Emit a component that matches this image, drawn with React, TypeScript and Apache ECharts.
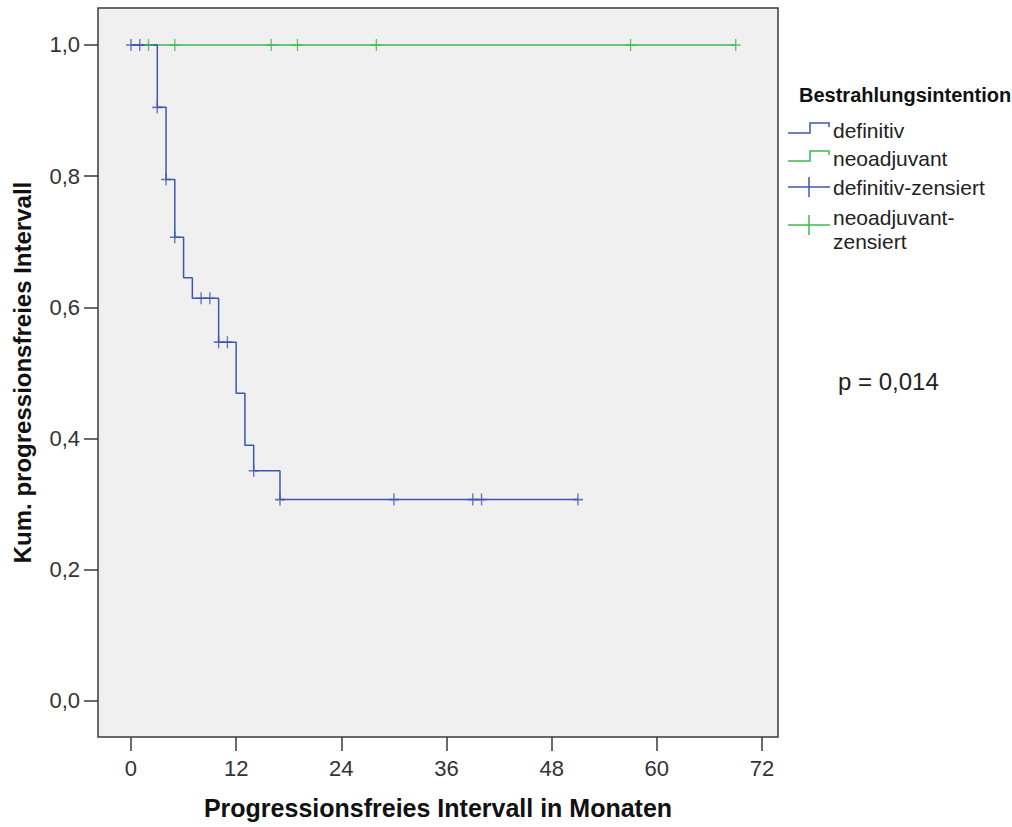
import React, { useEffect, useRef } from "react";
import * as echarts from "echarts";

// Kaplan-Meier: definitiv (event steps)
const defTimes = [0, 3, 4, 5, 6, 7, 10, 12, 13, 14, 17, 51];
const defSurv = [1.0, 0.905, 0.795, 0.707, 0.645, 0.614, 0.547, 0.469, 0.39, 0.351, 0.307, 0.307];
// definitiv censored
const defCensTimes = [0, 1, 3, 4, 5, 8, 9, 10, 11, 14, 17, 30, 39, 40, 51];
const defCensSurv = [1.0, 1.0, 0.905, 0.795, 0.707, 0.614, 0.614, 0.547, 0.547, 0.351, 0.307, 0.307, 0.307, 0.307, 0.307];

// neoadjuvant
const neoTimes = [0, 69];
const neoSurv = [1.0, 1.0];
const neoCensTimes = [2, 5, 16, 19, 28, 57, 69];
const neoCensSurv = [1.0, 1.0, 1.0, 1.0, 1.0, 1.0, 1.0];

const xTicks = [0, 12, 24, 36, 48, 60, 72];
const yTicks = [0, 0.2, 0.4, 0.6, 0.8, 1.0];

const legendTitle = "Bestrahlungsintention";
const legendLabels = ["definitiv", "neoadjuvant", "definitiv-zensiert", "neoadjuvant-\nzensiert"];
const pText = "p = 0,014";
const xTitle = "Progressionsfreies Intervall in Monaten";
const yTitle = "Kum. progressionsfreies Intervall";

const BLUE = "#3E58AC";
const GREEN = "#3DBA4F";
const FONT = "'Liberation Sans', Arial, sans-serif";
const CROSS = "path://M5,0 L5,12 M0,6 L10,6";

export default function App() {
  const ref = useRef<HTMLDivElement>(null);
  useEffect(() => {
    if (!ref.current) return;
    const chart = echarts.init(ref.current, null, { renderer: "svg" });
    const zip = (a: number[], b: number[]) => a.map((t, i) => [t, b[i]]);
    const stepIcon = (y: number, color: string) => ({
      type: "polyline",
      shape: { points: [[788, y + 5], [810, y + 5], [810, y - 5], [829, y - 5], [829, y - 1]] },
      style: { stroke: color, lineWidth: 1.5, fill: null },
    });
    const crossIcon = (y: number, color: string) => ({
      type: "group",
      children: [
        { type: "line", shape: { x1: 788, y1: y, x2: 830, y2: y }, style: { stroke: color, lineWidth: 1.5 } },
        { type: "line", shape: { x1: 809, y1: y - 10, x2: 809, y2: y + 10 }, style: { stroke: color, lineWidth: 1.5 } },
      ],
    });
    const legText = (y: number, text: string) => ({
      type: "text",
      x: 833,
      y,
      style: { text, font: `21px ${FONT}`, fill: "#222", verticalAlign: "middle", lineHeight: 24 },
    });
    chart.setOption({
      animation: false,
      backgroundColor: "#ffffff",
      grid: {
        left: 98,
        top: 8,
        right: 234,
        bottom: 90,
        show: true,
        backgroundColor: "#f0f0f0",
        borderColor: "#3a3a3a",
        borderWidth: 1.5,
      },
      xAxis: {
        type: "value",
        min: -3.765,
        max: 73.826,
        name: xTitle,
        nameLocation: "middle",
        nameGap: 58,
        nameTextStyle: { fontFamily: FONT, fontWeight: "bold", fontSize: 25, color: "#111" },
        axisLine: { show: false, onZero: false },
        splitLine: { show: false },
        axisTick: { show: true, length: 14, customValues: xTicks, lineStyle: { color: "#3a3a3a", width: 1.5 } },
        axisLabel: { customValues: xTicks, margin: 20, fontFamily: FONT, fontSize: 22, color: "#333" },
      },
      yAxis: {
        type: "value",
        min: -0.0549,
        max: 1.0564,
        name: yTitle,
        nameLocation: "middle",
        nameGap: 64,
        nameTextStyle: { fontFamily: FONT, fontWeight: "bold", fontSize: 24, color: "#111" },
        axisLine: { show: false, onZero: false },
        splitLine: { show: false },
        axisTick: { show: true, length: 14, customValues: yTicks, lineStyle: { color: "#3a3a3a", width: 1.5 } },
        axisLabel: {
          customValues: yTicks,
          margin: 18,
          fontFamily: FONT,
          fontSize: 22,
          color: "#333",
          formatter: (v: number) => v.toFixed(1).replace(".", ","),
        },
      },
      series: [
        {
          type: "line",
          name: "neoadjuvant",
          step: "end",
          data: zip(neoTimes, neoSurv),
          showSymbol: false,
          lineStyle: { color: GREEN, width: 1.5 },
          z: 2,
        },
        {
          type: "line",
          name: "definitiv",
          step: "end",
          data: zip(defTimes, defSurv),
          showSymbol: false,
          lineStyle: { color: BLUE, width: 1.5 },
          z: 3,
        },
        {
          type: "scatter",
          name: "neoadjuvant-zensiert",
          data: zip(neoCensTimes, neoCensSurv),
          symbol: CROSS,
          symbolSize: [10, 12],
          itemStyle: { color: "transparent", borderColor: GREEN, borderWidth: 1.5 },
          z: 4,
        },
        {
          type: "scatter",
          name: "definitiv-zensiert",
          data: zip(defCensTimes, defCensSurv),
          symbol: CROSS,
          symbolSize: [10, 12],
          itemStyle: { color: "transparent", borderColor: BLUE, borderWidth: 1.5 },
          z: 5,
        },
      ],
      graphic: [
        {
          type: "text",
          x: 799,
          y: 95,
          style: { text: legendTitle, font: `bold 20px ${FONT}`, fill: "#111", verticalAlign: "middle" },
        },
        stepIcon(128, BLUE),
        legText(130, legendLabels[0]),
        stepIcon(156, GREEN),
        legText(158, legendLabels[1]),
        crossIcon(187, BLUE),
        legText(187, legendLabels[2]),
        crossIcon(225, GREEN),
        { type: "text", x: 833, y: 205, style: { text: legendLabels[3], font: `21px ${FONT}`, fill: "#222", verticalAlign: "top", lineHeight: 24 } },
        {
          type: "text",
          x: 838,
          y: 381,
          style: { text: pText, font: `24px ${FONT}`, fill: "#222", verticalAlign: "middle" },
        },
      ],
    });
    return () => chart.dispose();
  }, []);
  return <div ref={ref} style={{ position: "fixed", left: 0, top: 0, width: 1012, height: 827 }} />;
}
